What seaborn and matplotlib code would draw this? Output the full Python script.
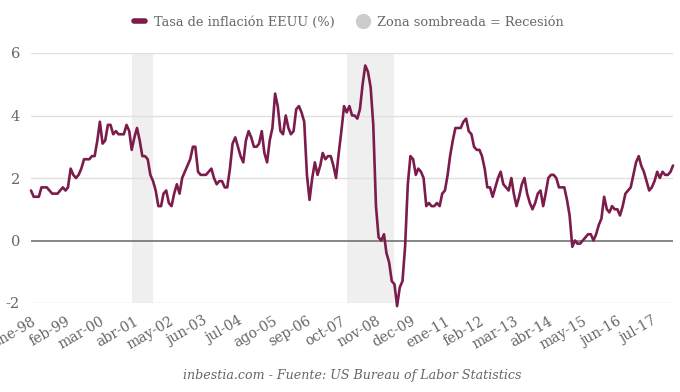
import numpy as np
import pandas as pd
import matplotlib
matplotlib.use("Agg")
import matplotlib.pyplot as plt
from matplotlib.lines import Line2D
import matplotlib.transforms as mtransforms
import seaborn as sns

# ---- data (US CPI, % year over year, monthly from Jan 1998) ----
start_month = "1998-01-01"
inflation = [
    1.6, 1.4, 1.4, 1.4, 1.7, 1.7, 1.7, 1.6, 1.5, 1.5, 1.5, 1.6,   # 1998
    1.7, 1.6, 1.7, 2.3, 2.1, 2.0, 2.1, 2.3, 2.6, 2.6, 2.6, 2.7,   # 1999
    2.7, 3.2, 3.8, 3.1, 3.2, 3.7, 3.7, 3.4, 3.5, 3.4, 3.4, 3.4,   # 2000
    3.7, 3.5, 2.9, 3.3, 3.6, 3.2, 2.7, 2.7, 2.6, 2.1, 1.9, 1.6,   # 2001
    1.1, 1.1, 1.5, 1.6, 1.2, 1.1, 1.5, 1.8, 1.5, 2.0, 2.2, 2.4,   # 2002
    2.6, 3.0, 3.0, 2.2, 2.1, 2.1, 2.1, 2.2, 2.3, 2.0, 1.8, 1.9,   # 2003
    1.9, 1.7, 1.7, 2.3, 3.1, 3.3, 3.0, 2.7, 2.5, 3.2, 3.5, 3.3,   # 2004
    3.0, 3.0, 3.1, 3.5, 2.8, 2.5, 3.2, 3.6, 4.7, 4.3, 3.5, 3.4,   # 2005
    4.0, 3.6, 3.4, 3.5, 4.2, 4.3, 4.1, 3.8, 2.1, 1.3, 2.0, 2.5,   # 2006
    2.1, 2.4, 2.8, 2.6, 2.7, 2.7, 2.4, 2.0, 2.8, 3.5, 4.3, 4.1,   # 2007
    4.3, 4.0, 4.0, 3.9, 4.2, 5.0, 5.6, 5.4, 4.9, 3.7, 1.1, 0.1,   # 2008
    0.0, 0.2, -0.4, -0.7, -1.3, -1.4, -2.1, -1.5, -1.3, -0.2, 1.8, 2.7,  # 2009
    2.6, 2.1, 2.3, 2.2, 2.0, 1.1, 1.2, 1.1, 1.1, 1.2, 1.1, 1.5,   # 2010
    1.6, 2.1, 2.7, 3.2, 3.6, 3.6, 3.6, 3.8, 3.9, 3.5, 3.4, 3.0,   # 2011
    2.9, 2.9, 2.7, 2.3, 1.7, 1.7, 1.4, 1.7, 2.0, 2.2, 1.8, 1.7,   # 2012
    1.6, 2.0, 1.5, 1.1, 1.4, 1.8, 2.0, 1.5, 1.2, 1.0, 1.2, 1.5,   # 2013
    1.6, 1.1, 1.5, 2.0, 2.1, 2.1, 2.0, 1.7, 1.7, 1.7, 1.3, 0.8,   # 2014
    -0.2, 0.0, -0.1, -0.1, 0.0, 0.1, 0.2, 0.2, 0.0, 0.2, 0.5, 0.7,  # 2015
    1.4, 1.0, 0.9, 1.1, 1.0, 1.0, 0.8, 1.1, 1.5, 1.6, 1.7, 2.1,   # 2016
    2.5, 2.7, 2.4, 2.2, 1.9, 1.6, 1.7, 1.9, 2.2, 2.0, 2.2, 2.1,   # 2017
    2.1, 2.2, 2.4,                                                # 2018
]
tick_dates = ["1998-01", "1999-02", "2000-03", "2001-04", "2002-05", "2003-06",
              "2004-07", "2005-08", "2006-09", "2007-10", "2008-11", "2009-12",
              "2011-01", "2012-02", "2013-03", "2014-04", "2015-05", "2016-06",
              "2017-07"]
tick_labels = ["ene-98", "feb-99", "mar-00", "abr-01", "may-02", "jun-03",
               "jul-04", "ago-05", "sep-06", "oct-07", "nov-08", "dec-09",
               "ene-11", "feb-12", "mar-13", "abr-14", "may-15", "jun-16",
               "jul-17"]
recession_start = ["2001-03-01", "2007-12-01"]
recession_end = ["2001-11-01", "2009-06-01"]
y_ticks = [-2, 0, 2, 4, 6]

legend_line = "Tasa de inflación EEUU (%)"
legend_zone = "Zona sombreada = Recesión"
caption = "inbestia.com - Fuente: US Bureau of Labor Statistics"

# ---- styling ----
LINE = "#7b1c4c"
TXT = "#666666"
sns.set_theme(style="white")
plt.rcParams["font.family"] = ["DejaVu Serif"]

dates = pd.date_range(start_month, periods=len(inflation), freq="MS")
df = pd.DataFrame({"fecha": dates, "inflacion": inflation})

fig = plt.figure(figsize=(6.8, 3.92), dpi=100)
ax = fig.add_axes([31 / 680, 89 / 392, 642 / 680, 250 / 392])

for s, e in zip(recession_start, recession_end):
    ax.axvspan(pd.Timestamp(s), pd.Timestamp(e), color="#efefef", lw=0, zorder=0)

for yv in y_ticks:
    if yv == 0:
        ax.axhline(yv, color="#666666", lw=1.1, zorder=1)
    else:
        ax.axhline(yv, color="#e0e0e0", lw=1.0, zorder=1)

sns.lineplot(data=df, x="fecha", y="inflacion", ax=ax, color=LINE, lw=1.9,
             zorder=3, clip_on=False)

ax.set_xlim(dates[0], dates[-1])
ax.set_ylim(-2, 6)
ax.set_yticks(y_ticks)
ax.set_yticklabels([str(v) for v in y_ticks], color=TXT, fontsize=10.5)
ax.set_xticks([pd.Timestamp(d) for d in tick_dates])
ax.set_xticklabels(tick_labels, rotation=30, ha="right", va="top",
                   rotation_mode="anchor", color=TXT, fontsize=10)
offset = mtransforms.ScaledTranslation(9 / 72, -8 / 72, fig.dpi_scale_trans)
for lab in ax.get_xticklabels():
    lab.set_transform(lab.get_transform() + offset)
ax.tick_params(axis="both", length=0, pad=8)
ax.set_xlabel("")
ax.set_ylabel("")
for sp in ax.spines.values():
    sp.set_visible(False)
ax.grid(False)

handles = [
    Line2D([0], [0], color=LINE, lw=4),
    Line2D([0], [0], marker="o", color="none", markerfacecolor="#cccccc",
           markeredgecolor="#cccccc", markersize=10),
]
fig.legend(handles, [legend_line, legend_zone], loc="center",
           bbox_to_anchor=(349 / 680, 1 - 22 / 392), ncol=2, frameon=False,
           fontsize=9.3, handlelength=0.8, handletextpad=0.7,
           columnspacing=1.8, labelcolor=TXT)

fig.text(352 / 680, 1 - 376 / 392, caption, ha="center", va="center",
         style="italic", color=TXT, fontsize=9.1)

fig.savefig("out.png", dpi=100)
